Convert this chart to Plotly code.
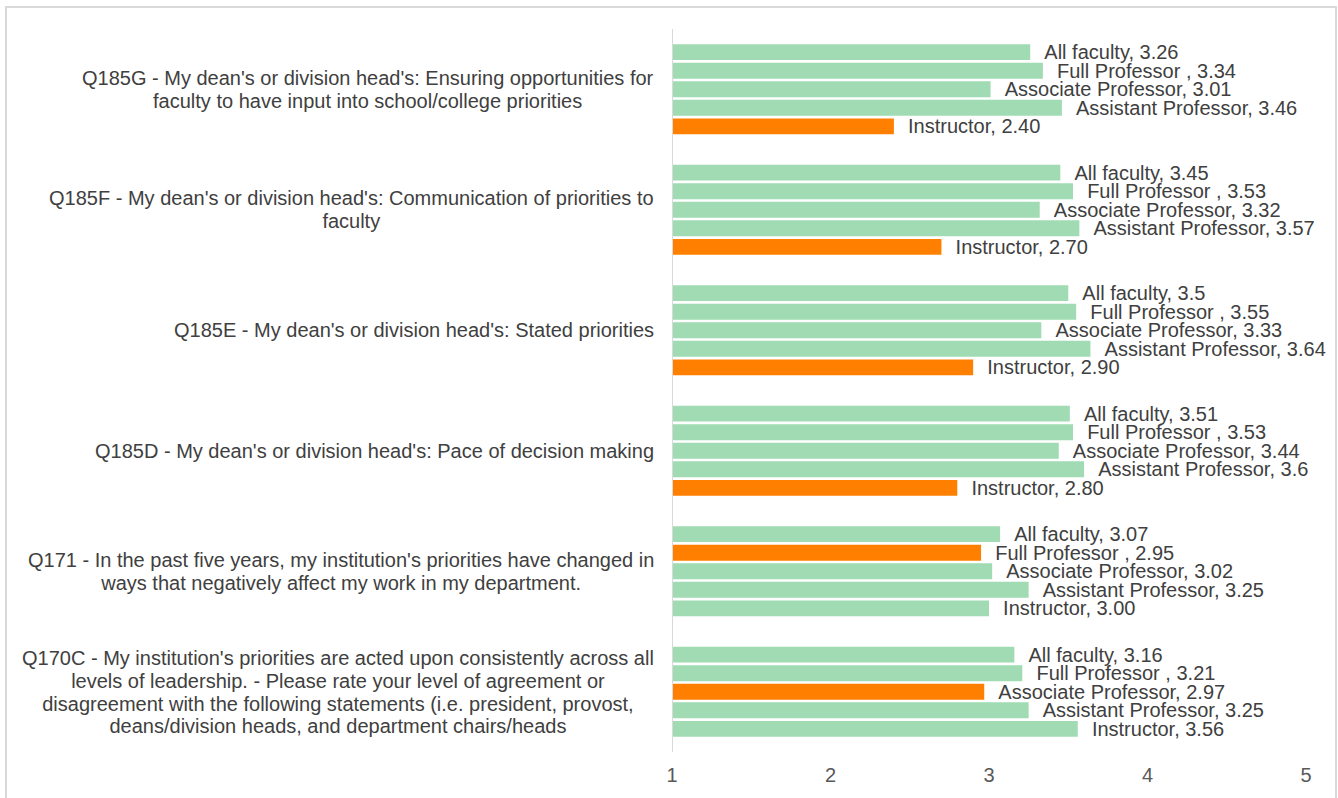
import plotly.graph_objects as go

# Survey items, listed top to bottom (one entry per wrapped line)
questions = [
    ["Q185G - My dean's or division head's: Ensuring opportunities for",
     "faculty to have input into school/college priorities"],
    ["Q185F - My dean's or division head's: Communication of priorities to",
     "faculty"],
    ["Q185E - My dean's or division head's: Stated priorities"],
    ["Q185D - My dean's or division head's: Pace of decision making"],
    ["Q171 - In the past five years, my institution's priorities have changed in",
     "ways that negatively affect my work in my department."],
    ["Q170C - My institution's priorities are acted upon consistently across all",
     "levels of leadership. - Please rate your level of agreement or",
     "disagreement with the following statements (i.e. president, provost,",
     "deans/division heads, and department chairs/heads"],
]
keys = ["Q185G", "Q185F", "Q185E", "Q185D", "Q171", "Q170C"]

series_names = ["All faculty", "Full Professor ", "Associate Professor", "Assistant Professor", "Instructor"]

# Mean scores per group (in the order of `keys`), with the displayed value text
all_faculty = [3.26, 3.45, 3.5, 3.51, 3.07, 3.16]
all_faculty_txt = ["3.26", "3.45", "3.5", "3.51", "3.07", "3.16"]
full_prof = [3.34, 3.53, 3.55, 3.53, 2.95, 3.21]
full_prof_txt = ["3.34", "3.53", "3.55", "3.53", "2.95", "3.21"]
assoc_prof = [3.01, 3.32, 3.33, 3.44, 3.02, 2.97]
assoc_prof_txt = ["3.01", "3.32", "3.33", "3.44", "3.02", "2.97"]
asst_prof = [3.46, 3.57, 3.64, 3.6, 3.25, 3.25]
asst_prof_txt = ["3.46", "3.57", "3.64", "3.6", "3.25", "3.25"]
instructor = [2.40, 2.70, 2.90, 2.80, 3.00, 3.56]
instructor_txt = ["2.40", "2.70", "2.90", "2.80", "3.00", "3.56"]

# Bars flagged as the lowest-scoring rank on each item
highlight = {("Q185G", "Instructor"), ("Q185F", "Instructor"), ("Q185E", "Instructor"),
             ("Q185D", "Instructor"), ("Q171", "Full Professor "), ("Q170C", "Associate Professor")}

series_values = [all_faculty, full_prof, assoc_prof, asst_prof, instructor]
series_texts = [all_faculty_txt, full_prof_txt, assoc_prof_txt, asst_prof_txt, instructor_txt]

GREEN = "#A0DBB3"
ORANGE = "#FF8000"
BASE = 1
FONT = "Liberation Sans, Arial, sans-serif"

# Layout geometry (px)
W, H = 1338, 798
ML, MR, MT, MB = 672, 32, 29, 44

fig = go.Figure()
for name, vals, txts in zip(series_names, series_values, series_texts):
    colors = [ORANGE if (k, name) in highlight else GREEN for k in keys]
    fig.add_trace(go.Bar(
        y=keys,
        x=[v - BASE for v in vals],
        base=BASE,
        orientation="h",
        name=name,
        marker=dict(color=colors, line=dict(width=0)),
        text=["\u00a0\u00a0" + f"{name}, {t}" for t in txts],
        textposition="outside",
        constraintext="none",
        cliponaxis=False,
        outsidetextfont=dict(family=FONT, size=20, color="#404040"),
        hoverinfo="skip",
    ))

# Wrapped category labels, centred line by line; the base font sets a
# tighter line pitch while each line is drawn at 20px
for k, lines in zip(keys, questions):
    txt = "<br>".join(f'<span style="font-size:20px">{ln}</span>' for ln in lines)
    fig.add_annotation(
        x=0, xref="paper", y=k, yref="y",
        text=txt, showarrow=False, xanchor="right", yanchor="middle",
        xshift=-16, align="center",
        font=dict(family=FONT, size=17.5, color="#404040"),
    )

pw = W - ML - MR
ph = H - MT - MB
# Outer chart frame
fig.add_shape(
    type="rect", xref="paper", yref="paper",
    x0=(6 - ML) / pw, x1=(1336 - ML) / pw,
    y0=(H - MB - 810) / ph, y1=(H - MB - 7) / ph,
    line=dict(color="#D9D9D9", width=2), fillcolor="rgba(0,0,0,0)", layer="below",
)

fig.update_layout(
    width=W, height=H,
    margin=dict(l=ML, r=MR, t=MT, b=MB, pad=0),
    barmode="group",
    bargap=0.23,
    bargroupgap=0.14,
    showlegend=False,
    plot_bgcolor="white",
    paper_bgcolor="white",
    xaxis=dict(
        range=[1, 5], tickvals=[1, 2, 3, 4, 5], ticktext=["1", "2", "3", "4", "5"],
        showgrid=False, zeroline=False, showline=False, ticks="",
        tickfont=dict(family=FONT, size=20, color="#595959"),
        ticklabelstandoff=9,
    ),
    yaxis=dict(
        categoryorder="array", categoryarray=keys, autorange="reversed",
        showticklabels=False, showgrid=False, zeroline=False, ticks="",
        showline=False,
    ),
)

# Vertical baseline at x = 1
fig.add_shape(type="line", xref="x", yref="paper", x0=1, x1=1, y0=0, y1=1,
              line=dict(color="#D9D9D9", width=2))

fig.write_html("out.html")
